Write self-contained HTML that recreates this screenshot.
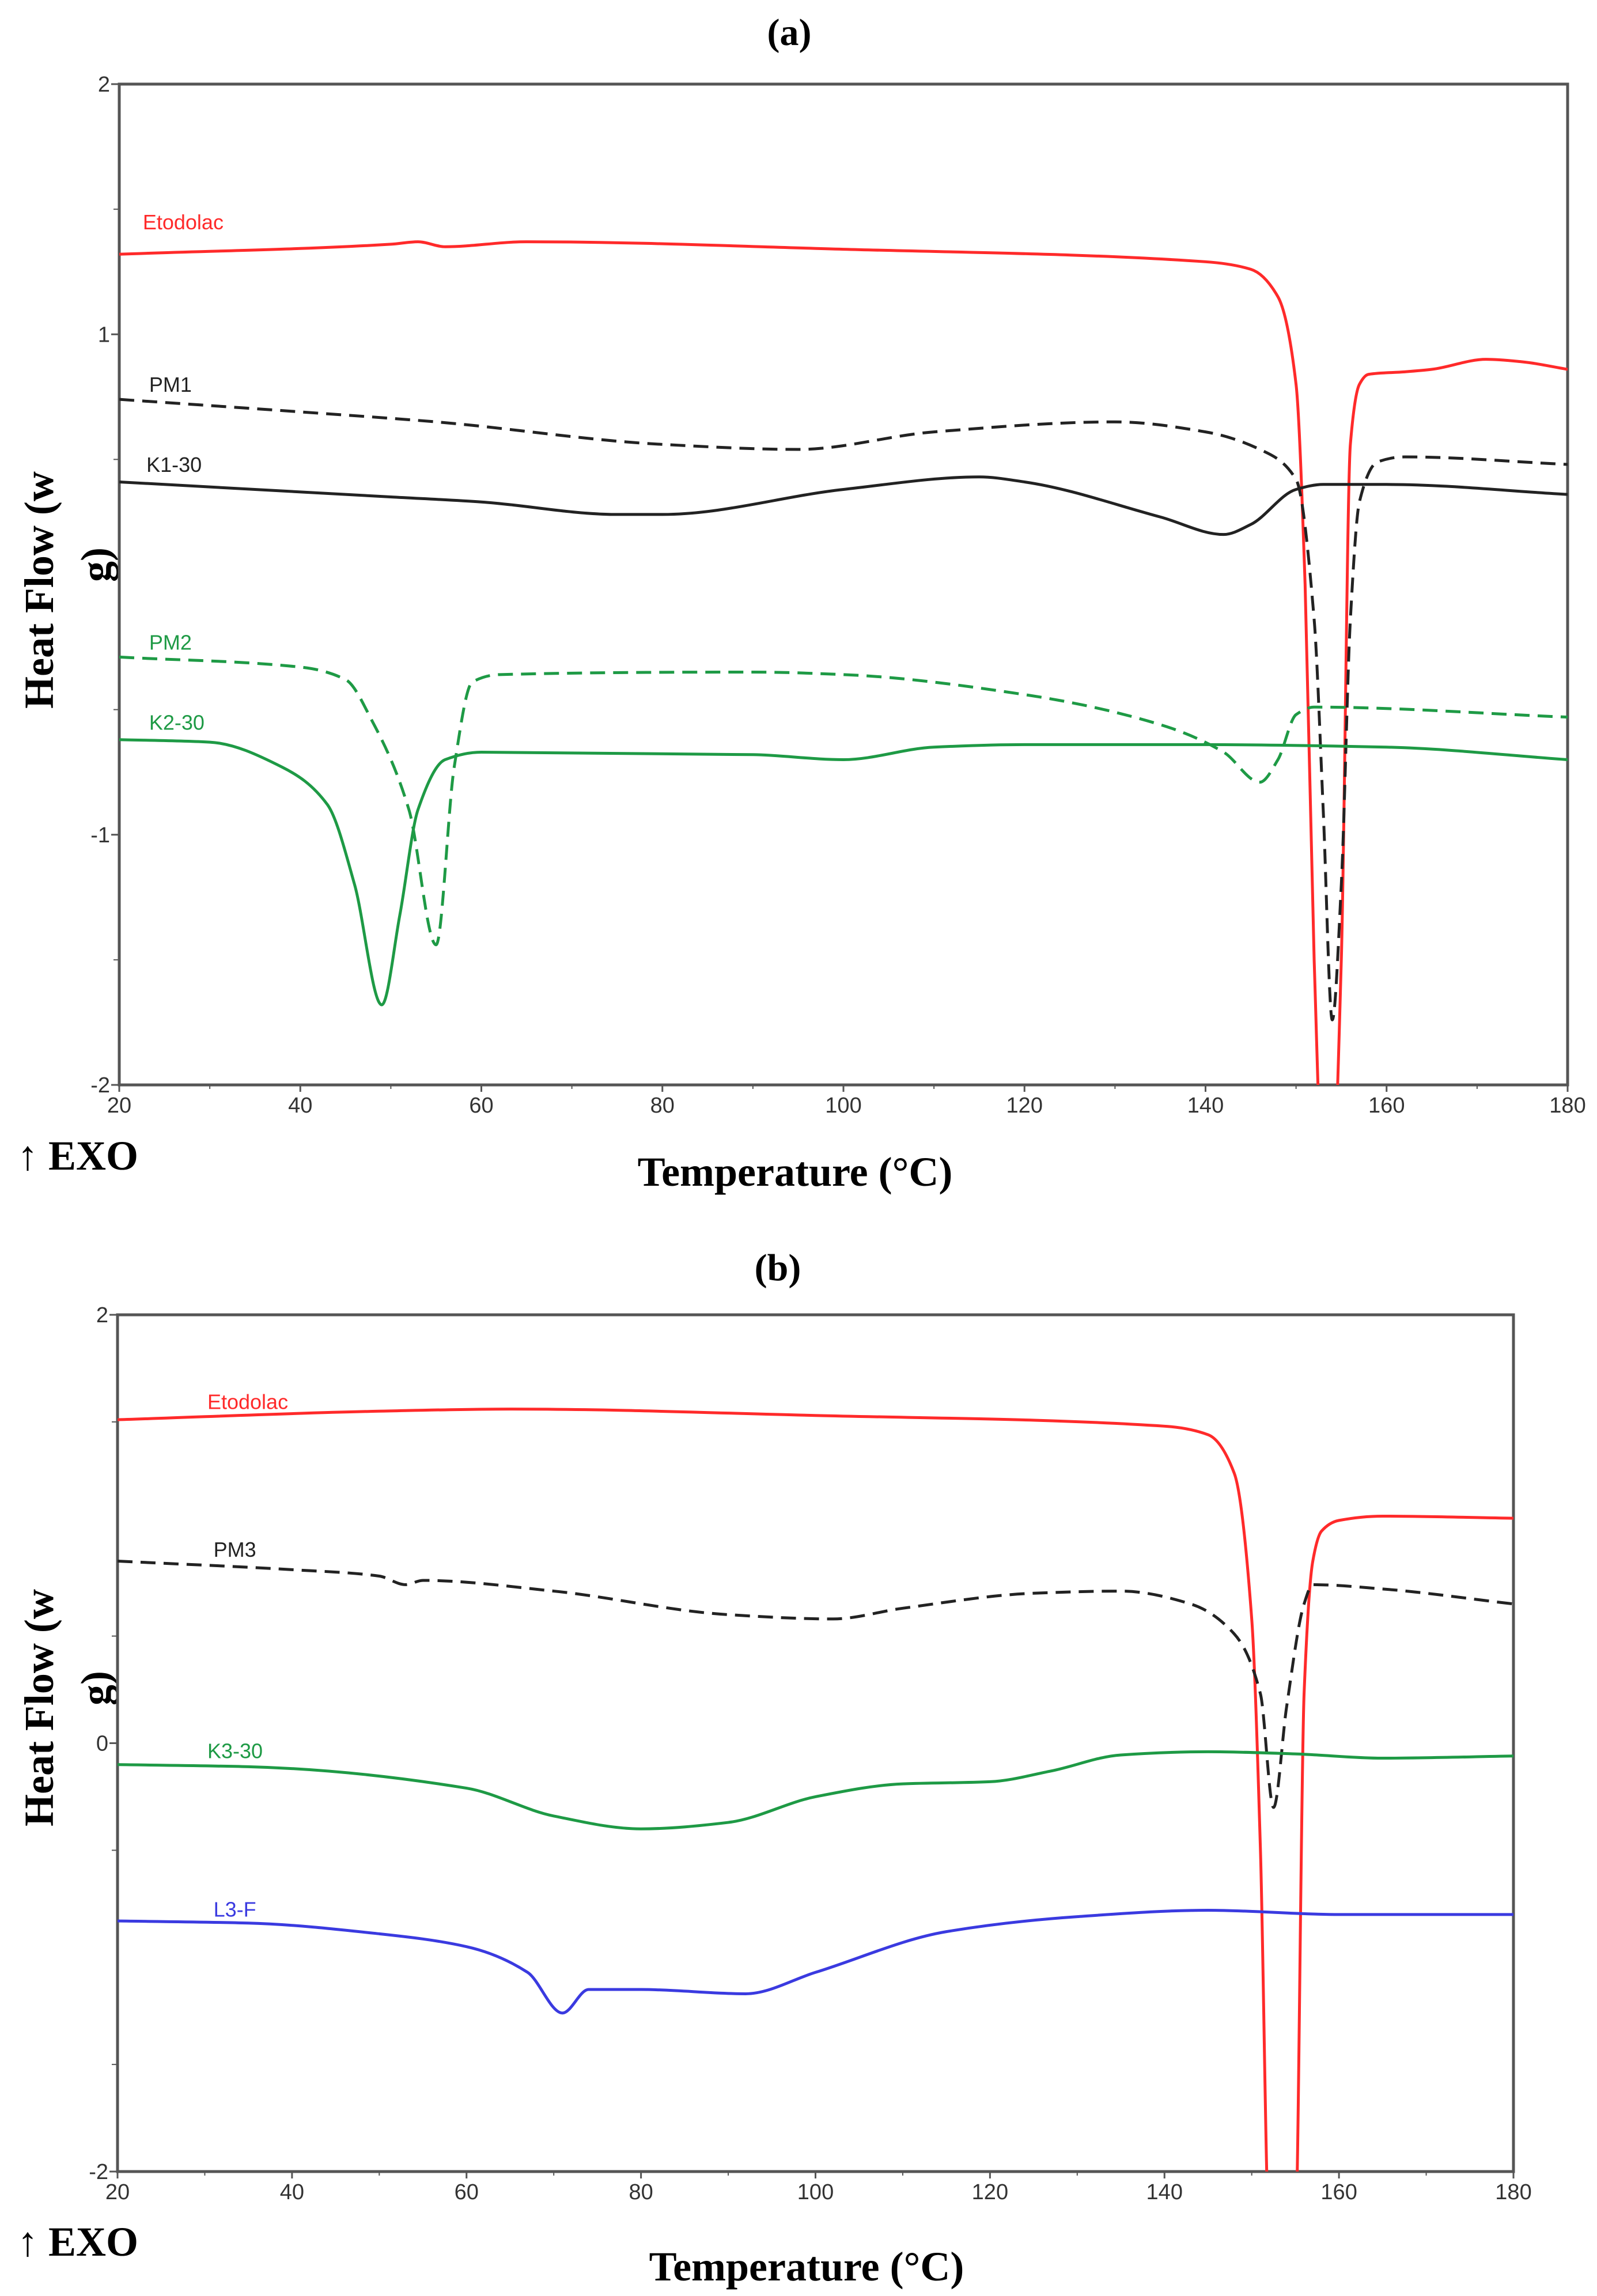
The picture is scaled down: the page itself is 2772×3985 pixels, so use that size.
<!DOCTYPE html>
<html><head><meta charset="utf-8">
<style>
html,body{margin:0;padding:0;background:#fff;}
svg{display:block;}
.tick{font-family:"Liberation Sans",sans-serif;font-size:38px;fill:#333;}
.title{font-family:"Liberation Serif",serif;font-weight:bold;font-size:66px;fill:#000;}
.axt{font-family:"Liberation Serif",serif;font-weight:bold;font-size:72px;fill:#000;}
.lab{font-family:"Liberation Sans",sans-serif;font-size:36px;}
</style></head>
<body>
<svg id="chart" width="2772" height="3985" viewBox="0 0 2772 3985" xmlns="http://www.w3.org/2000/svg">
<text class="title" x="1370" y="78" text-anchor="middle">(a)</text>
<text class="title" x="1350" y="2222" text-anchor="middle">(b)</text>
<text class="axt" x="1380" y="2058" text-anchor="middle">Temperature (°C)</text>
<text class="axt" x="1400" y="3958" text-anchor="middle">Temperature (°C)</text>
<text class="axt" x="30" y="2030">↑ EXO</text>
<text class="axt" x="30" y="3915">↑ EXO</text>
<text class="axt" transform="translate(92,1230) rotate(-90)">Heat  Flow (w</text>
<text class="axt" transform="translate(190,1010) rotate(-90)">g)</text>
<text class="axt" transform="translate(92,3170) rotate(-90)">Heat  Flow (w</text>
<text class="axt" transform="translate(190,2960) rotate(-90)">g)</text>
</svg>
<script>
const xTicks=[20,40,60,80,100,120,140,160,180];
const yTicksA=[2,1,-1,-2];
const yTicksB=[2,0,-2];
// Panel (a) series
const etoA_x=[20,50,53,56,65,100,140,145,148,150,151,152,153,154,155,156,157,158,162,165,171,175,180];
const etoA_y=[1.32,1.36,1.37,1.35,1.37,1.34,1.29,1.26,1.15,0.8,0,-1.5,-2.4,-2.4,-1.5,0.56,0.8,0.84,0.85,0.86,0.9,0.89,0.86];
const pm1_x=[20,40,55,80,95,110,130,140,146,150,152,153,154,155,156,157,159,162,180];
const pm1_y=[0.74,0.69,0.65,0.56,0.54,0.61,0.65,0.61,0.54,0.42,-0.14,-0.9,-1.74,-1.2,-0.14,0.33,0.49,0.51,0.48];
const k130_x=[20,50,60,75,80,100,115,120,135,142,145,150,153,160,180];
const k130_y=[0.41,0.35,0.33,0.28,0.28,0.38,0.43,0.41,0.27,0.2,0.24,0.38,0.4,0.4,0.36];
const pm2_x=[20,40,45,48,52,55,57,59,62,90,100,120,135,142,146,148,150,152,180];
const pm2_y=[-0.29,-0.33,-0.38,-0.55,-0.9,-1.44,-0.73,-0.39,-0.36,-0.35,-0.36,-0.44,-0.56,-0.67,-0.79,-0.7,-0.52,-0.49,-0.53];
const k230_x=[20,30,38,43,46,49,51,53,56,60,90,100,110,120,140,160,180];
const k230_y=[-0.62,-0.63,-0.73,-0.88,-1.2,-1.68,-1.32,-0.9,-0.7,-0.67,-0.68,-0.7,-0.65,-0.64,-0.64,-0.65,-0.7];
// Panel (b) series
const etoB_x=[20,50,65,100,140,145,148,150,151,152,153,154,155,156,157,158,160,165,180];
const etoB_y=[1.51,1.55,1.56,1.53,1.48,1.44,1.26,0.58,-0.5,-2.3,-2.4,-2.4,-2.3,0.23,0.85,0.99,1.04,1.06,1.05];
const pm3_x=[20,40,50,53,55,70,90,102,110,125,135,143,148,151,152.5,154,156,157,165,180];
const pm3_y=[0.85,0.81,0.78,0.74,0.76,0.71,0.6,0.58,0.63,0.7,0.71,0.65,0.51,0.23,-0.3,0.17,0.65,0.74,0.72,0.65];
const k330_x=[20,35,60,70,80,90,100,110,120,127,135,145,155,165,180];
const k330_y=[-0.1,-0.11,-0.21,-0.34,-0.4,-0.37,-0.25,-0.19,-0.18,-0.13,-0.055,-0.04,-0.05,-0.07,-0.06];
const l3f_x=[20,35,50,60,67,71,74,80,92,100,115,130,145,160,180];
const l3f_y=[-0.83,-0.84,-0.89,-0.95,-1.07,-1.26,-1.15,-1.15,-1.17,-1.07,-0.88,-0.81,-0.78,-0.8,-0.8];

const NS='http://www.w3.org/2000/svg';
const svg=document.getElementById('chart');
function mk(tag,attrs,parent){const e=document.createElementNS(NS,tag);for(const k in attrs)e.setAttribute(k,attrs[k]);(parent||svg).appendChild(e);return e;}

function monoPath(P){
  const n=P.length,dx=[],m=[],t=[];
  for(let i=0;i<n-1;i++){dx[i]=P[i+1][0]-P[i][0];m[i]=(P[i+1][1]-P[i][1])/dx[i];}
  t[0]=m[0];t[n-1]=m[n-2];
  for(let i=1;i<n-1;i++){
    if(m[i-1]*m[i]<=0)t[i]=0;
    else{const w1=2*dx[i]+dx[i-1],w2=dx[i]+2*dx[i-1];t[i]=(w1+w2)/(w1/m[i-1]+w2/m[i]);}
  }
  let d='M'+P[0][0]+','+P[0][1];
  for(let i=0;i<n-1;i++){
    const h=dx[i]/3;
    d+=' C'+(P[i][0]+h)+','+(P[i][1]+t[i]*h)+' '+(P[i+1][0]-h)+','+(P[i+1][1]-t[i+1]*h)+' '+P[i+1][0]+','+P[i+1][1];
  }
  return d;
}

function panel(id,L,R,T,B,yTicks,series){
  const xS=v=>L+(v-20)/160*(R-L);
  const yS=v=>B-(v+2)/4*(B-T);
  const g=mk('g',{});
  
  
  const cp=mk('clipPath',{id:'clip'+id},g);
  mk('rect',{x:L,y:T,width:R-L,height:B-T},cp);
  const frame=mk('rect',{x:L,y:T,width:R-L,height:B-T,fill:'none',stroke:'#555','stroke-width':5},g);
  
  
  xTicks.forEach(t=>{
    const x=xS(t);
    mk('line',{x1:x,x2:x,y1:B,y2:B+12,stroke:'#555','stroke-width':3},g);
    const tx=mk('text',{x:x,y:B+48,'text-anchor':'middle',class:'tick'},g);
    tx.textContent=t;
    
    
  });
  for(let t=30;t<180;t+=20){const x=xS(t);mk('line',{x1:x,x2:x,y1:B,y2:B+7,stroke:'#555','stroke-width':2},g);}
  for(let v=-1.5;v<2;v+=1){const y=yS(v);mk('line',{x1:L-10,x2:L,y1:y,y2:y,stroke:'#555','stroke-width':2},g);}
  yTicks.forEach(t=>{
    const y=yS(t);
    mk('line',{x1:L-14,x2:L,y1:y,y2:y,stroke:'#555','stroke-width':3},g);
    const tx=mk('text',{x:L-16,y:y+13,'text-anchor':'end',class:'tick'},g);
    tx.textContent=t;
    
    
  });
  const lg=mk('g',{'clip-path':'url(#clip'+id+')'},g);
  series.forEach(s=>{
    const P=s.xs.map((x,i)=>[xS(x),yS(s.ys[i])]);
    const a={d:monoPath(P),fill:'none',stroke:s.c,'stroke-width':5,'stroke-linejoin':'round'};
    if(s.dash)a['stroke-dasharray']='26,14';
    const p=mk('path',a,lg);
    
    
    const t=mk('text',{x:xS(s.lx),y:yS(s.ly),fill:s.c,class:'lab'},g);
    t.textContent=s.n;
    
    
  });
}
panel('a',207,2721,146,1883,yTicksA,[
 {n:'Etodolac',xs:etoA_x,ys:etoA_y,c:'#ff2a2a',lx:22.6,ly:1.42},
 {n:'PM1',xs:pm1_x,ys:pm1_y,c:'#222',dash:true,lx:23.3,ly:0.77},
 {n:'K1-30',xs:k130_x,ys:k130_y,c:'#222',lx:23,ly:0.45},
 {n:'PM2',xs:pm2_x,ys:pm2_y,c:'#1e9a45',dash:true,lx:23.3,ly:-0.26},
 {n:'K2-30',xs:k230_x,ys:k230_y,c:'#1e9a45',lx:23.3,ly:-0.58}
]);
panel('b',204,2627,2282,3769,yTicksB,[
 {n:'Etodolac',xs:etoB_x,ys:etoB_y,c:'#ff2a2a',lx:30.3,ly:1.56},
 {n:'PM3',xs:pm3_x,ys:pm3_y,c:'#222',dash:true,lx:31,ly:0.87},
 {n:'K3-30',xs:k330_x,ys:k330_y,c:'#1e9a45',lx:30.3,ly:-0.07},
 {n:'L3-F',xs:l3f_x,ys:l3f_y,c:'#3a3ae0',lx:31,ly:-0.81}
]);
</script>
</body></html>
